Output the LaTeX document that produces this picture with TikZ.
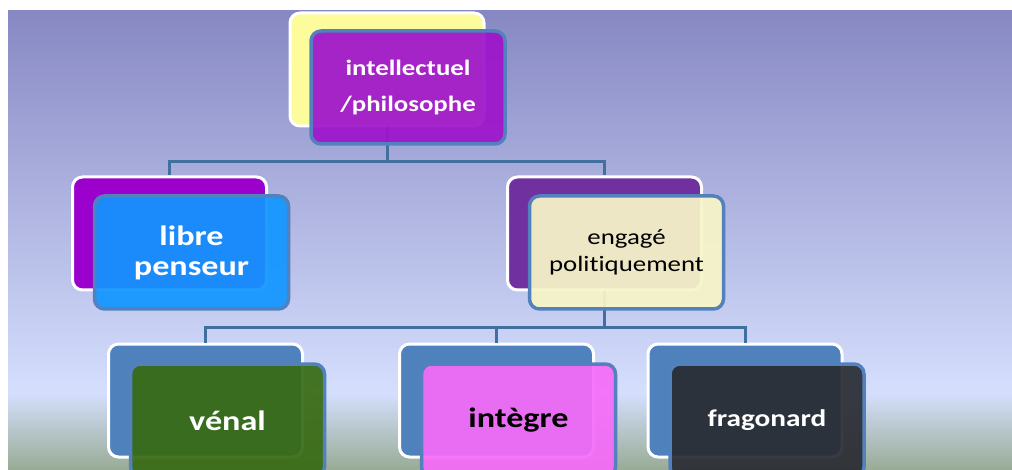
\documentclass[tikz,border=0pt]{standalone}
\usepackage{fontspec}
\usepackage{tikz}
\usetikzlibrary{arrows}
\usetikzlibrary{positioning}
\newfontfamily\boxfont{Carlito}[FakeStretch=1.22,Ligatures=NoCommon]

\definecolor{bgTop}{HTML}{8788C3}
\definecolor{bgMid}{HTML}{D5DFFD}
\definecolor{bgLow}{HTML}{98AB95}
\definecolor{linkBlue}{HTML}{41709E}
\definecolor{frameBlue}{HTML}{5281BE}
\definecolor{backYellow}{HTML}{FCFC9C}
\definecolor{backViolet}{HTML}{9B00CC}
\definecolor{backPlum}{HTML}{7030A0}
\definecolor{backBlue}{HTML}{4F81BD}
\definecolor{topPurple}{HTML}{9E14CB}
\definecolor{libreBlue}{HTML}{1296FF}
\definecolor{engCream}{HTML}{F7F5C8}
\definecolor{venalGreen}{HTML}{386B13}
\definecolor{integrePink}{HTML}{F56CF8}
\definecolor{fragoDark}{HTML}{2A2D33}

\begin{document}
\begin{tikzpicture}
		[x=1pt,y=-1pt,
		backbox/.style={draw=white,line width=3pt,rounded corners=10pt,
			minimum width=194pt,minimum height=113pt},
		frontbox/.style={draw=frameBlue,line width=3.5pt,rounded corners=10pt,
			minimum width=194pt,minimum height=113pt,fill opacity=.93,
			text opacity=1,align=center},
		link/.style={draw=linkBlue,line width=3pt}]
		\clip (0,0) rectangle (1012,470);
		% background
		\shade[top color=bgTop,bottom color=bgMid] (8,11) rectangle (1012,394);
		\shade[top color=bgMid,bottom color=bgLow] (8,393) rectangle (1012,470);
		
		% back boxes
		\node[backbox,fill=backYellow] (intelBack) at (387,69.5) {};
		\node[backbox,fill=backViolet] (libreBack) at (169.5,233.5) {};
		\node[backbox,fill=backPlum] (engBack) at (604.5,233.5) {};
		\node[backbox,fill=backBlue] (venalBack) at (205.5,400.5) {};
		\node[backbox,fill=backBlue] (integreBack) at (496.5,400.5) {};
		\node[backbox,fill=backBlue] (fragoBack) at (745,400.5) {};
		
		% connectors
		\coordinate (j1) at ([yshift=-34pt]intelBack.south);
		\coordinate (j2) at ([yshift=-36pt]engBack.south);
		\foreach \from/\via/\to in
		{intelBack/j1/libreBack, intelBack/j1/engBack,
		 engBack/j2/venalBack, engBack/j2/integreBack, engBack/j2/fragoBack}
		\draw[link] (\from.south) -- (\via) -| (\to.north);
		
		% front boxes
		\node[frontbox,fill=topPurple,text=white,
			font=\boxfont\bfseries\fontsize{22}{36}\selectfont]
			(intel) at ([shift={(21,18)}]intelBack) {intellectuel\\/philosophe};
		\node[frontbox,fill=libreBlue,text=white,
			font=\boxfont\bfseries\fontsize{28}{30}\selectfont]
			(libre) at ([shift={(22,19)}]libreBack) {libre\\penseur};
		\node[frontbox,fill=engCream,text=black,
			font=\boxfont\fontsize{22}{27}\selectfont]
			(eng) at ([shift={(22,19)}]engBack) {engagé\\politiquement};
		\node[frontbox,fill=venalGreen,text=white,
			font=\boxfont\bfseries\fontsize{28}{30}\selectfont]
			(venal) at ([shift={(22,20)}]venalBack) {vénal};
		\node[frontbox,fill=integrePink,text=black,
			font=\boxfont\bfseries\fontsize{28}{30}\selectfont]
			(integre) at ([shift={(22,20)}]integreBack) {intègre};
		\node[frontbox,fill=fragoDark,text=white,
			font=\boxfont\bfseries\fontsize{24}{30}\selectfont]
			(frago) at ([shift={(22,20)}]fragoBack) {fragonard};
		\end{tikzpicture}
\end{document}
